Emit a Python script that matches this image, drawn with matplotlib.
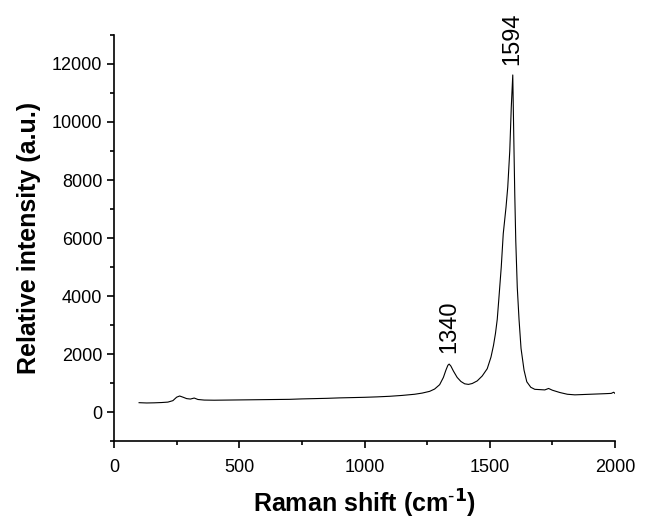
import matplotlib
matplotlib.use("Agg")
import matplotlib.pyplot as plt
from matplotlib.ticker import MultipleLocator

plt.rcParams['font.family'] = ['Liberation Sans', 'DejaVu Sans']

# Raman spectrum, values
shift = [100, 130, 160, 190, 215, 235, 250, 262, 275, 290, 305, 320, 335, 360,
         400, 450, 500, 550, 600, 650, 700, 750, 800, 850, 900, 950, 1000,
         1050, 1100, 1150, 1200, 1230, 1260, 1280, 1300, 1315, 1325, 1333,
         1338, 1345, 1355, 1370, 1385, 1400, 1415, 1430, 1450, 1470, 1490,
         1505, 1515, 1523, 1530, 1536, 1546, 1554, 1565, 1572, 1580, 1586,
         1592, 1596, 1600, 1604, 1610, 1617, 1625, 1637, 1648, 1664, 1680,
         1700, 1720, 1735, 1750, 1780, 1810, 1840, 1870, 1900, 1930, 1960,
         1985, 1995, 2000]
intensity = [330, 320, 325, 335, 350, 400, 520, 560, 520, 470, 455, 490, 440,
             420, 415, 420, 425, 430, 435, 440, 445, 460, 470, 480, 495, 505,
             515, 530, 550, 580, 620, 660, 720, 800, 950, 1200, 1450, 1620,
             1660, 1590, 1420, 1200, 1060, 980, 960, 990, 1080, 1250, 1500,
             1900, 2300, 2720, 3200, 3860, 5000, 6150, 7060, 7760, 9000, 10500,
             11620, 9500, 7500, 5900, 4300, 3200, 2200, 1450, 1050, 860, 790,
             780, 770, 820, 760, 680, 620, 600, 610, 620, 630, 640, 650, 690,
             650]

peak_pos = [1338, 1590]
peak_lab = ['1340', '1594']
peak_lab_y = [2050, 11950]

fig = plt.figure(figsize=(6.48, 5.21), dpi=100)
ax = fig.add_axes([0.176, 0.153, 0.773, 0.78])

ax.plot(shift, intensity, color='black', linewidth=0.8)

for x, t, y in zip(peak_pos, peak_lab, peak_lab_y):
    ax.text(x, y, t, rotation=90, ha='center', va='bottom', fontsize=17)

ax.set_xlim(0, 2000)
ax.xaxis.set_major_locator(MultipleLocator(500))
ax.xaxis.set_minor_locator(MultipleLocator(250))
ax.yaxis.set_minor_locator(MultipleLocator(1000))
ax.set_yticks([0, 2000, 4000, 6000, 8000, 10000, 12000])
ax.set_ylim(-1000, 13000)

ax.spines['top'].set_visible(False)
ax.spines['right'].set_visible(False)
ax.spines['left'].set_linewidth(1.2)
ax.spines['bottom'].set_linewidth(1.2)
ax.tick_params(which='major', direction='out', length=5, width=1.2, labelsize=13)
ax.tick_params(axis='x', which='major', pad=8)
ax.tick_params(which='minor', direction='out', length=3, width=1.2)

ax.set_xlabel(r'Raman shift (cm$^{\mathbf{\text{-}1}}$)', fontsize=18,
              fontweight='bold', labelpad=8)
ax.set_ylabel('Relative intensity (a.u.)', fontsize=18, fontweight='bold', labelpad=8)

plt.savefig('out.png', dpi=100)
plt.close()
